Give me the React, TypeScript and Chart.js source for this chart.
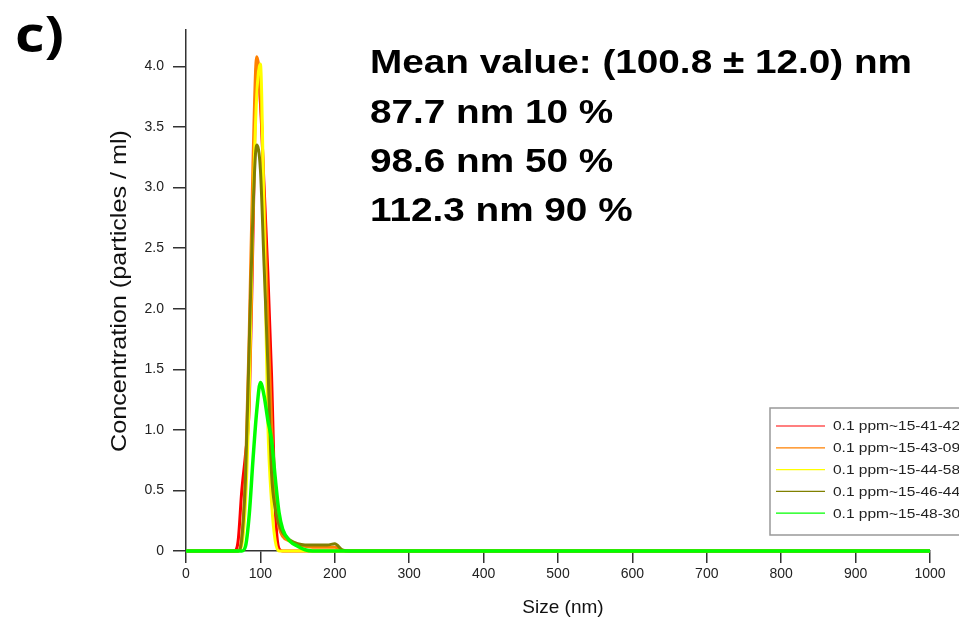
import React, { useEffect, useRef } from "react";
import { Chart, registerables } from "chart.js";

Chart.register(...registerables);

const sizes = [0, 60, 65, 70, 75, 80, 85, 90, 95, 100, 105, 110, 115, 120, 125, 130, 140, 150, 160, 170, 180, 190, 200, 210, 220, 1000];
const red = [0, 0, 0, 0.08, 0.5, 0.8, 1.2, 2.6, 4.0, 3.7, 3.0, 2.3, 1.45, 0.35, 0.02, 0, 0, 0, 0, 0, 0, 0, 0, 0, 0, 0];
const orange = [0, 0, 0, 0, 0.12, 0.65, 1.8, 3.2, 4.08, 3.8, 2.9, 1.95, 1.05, 0.45, 0.2, 0.12, 0.08, 0.05, 0.04, 0.03, 0.03, 0.03, 0.03, 0.005, 0, 0];
const yellow = [0, 0, 0, 0, 0.05, 0.4, 1.3, 2.8, 3.75, 4.02, 2.7, 1.05, 0.4, 0.08, 0, 0, 0, 0, 0, 0, 0, 0, 0, 0, 0, 0];
const olive = [0, 0, 0, 0, 0.1, 0.6, 1.7, 2.8, 3.35, 3.15, 2.35, 1.55, 0.64, 0.35, 0.22, 0.15, 0.09, 0.06, 0.05, 0.05, 0.05, 0.05, 0.06, 0.01, 0, 0];
const green = [0, 0, 0, 0, 0, 0.04, 0.3, 0.75, 1.15, 1.39, 1.28, 1.08, 0.92, 0.6, 0.32, 0.18, 0.08, 0.04, 0.01, 0, 0, 0, 0, 0, 0, 0];

const seriesLabels = ["0.1 ppm~15-41-42", "0.1 ppm~15-43-09", "0.1 ppm~15-44-58", "0.1 ppm~15-46-44", "0.1 ppm~15-48-30"];
const seriesValues = [red, orange, yellow, olive, green];
const seriesColors = ["#ff0000", "#ff8000", "#ffff00", "#808000", "#00ff00"];

const annotationLines = ["Mean value: (100.8 \u00b1 12.0) nm", "87.7 nm 10 %", "98.6 nm 50 %", "112.3 nm 90 %"];
const xTitle = "Size (nm)";
const yTitle = "Concentration (particles / ml)";
const panelLabel = "c)";

const textPlugin = {
  id: "textPlugin",
  afterDraw(chart: any) {
    const ctx = chart.ctx as CanvasRenderingContext2D;
    ctx.save();
    ctx.fillStyle = "#000";
    ctx.textAlign = "left";
    ctx.textBaseline = "alphabetic";

    // panel label
    ctx.save();
    ctx.translate(15, 52);
    ctx.scale(1.15, 1);
    ctx.font = "bold 50px 'Open Sans'";
    ctx.fillText(panelLabel, 0, 0);
    ctx.restore();

    // annotation
    ctx.font = "bold 34px 'Liberation Sans'";
    const w0 = ctx.measureText(annotationLines[0]).width;
    const sx = 542 / w0;
    const baselines = [73, 123, 172, 221];
    annotationLines.forEach((t, i) => {
      ctx.save();
      ctx.translate(370, baselines[i]);
      ctx.scale(sx, 1);
      ctx.fillText(t, 0, 0);
      ctx.restore();
    });

    // x title
    ctx.fillStyle = "#111";
    ctx.font = "19px 'Liberation Sans'";
    ctx.textAlign = "center";
    ctx.fillText(xTitle, 563, 613);

    // y title
    ctx.save();
    ctx.translate(126, 291);
    ctx.rotate(-Math.PI / 2);
    ctx.font = "22px 'Liberation Sans'";
    const wy = ctx.measureText(yTitle).width;
    ctx.scale(322 / wy, 1);
    ctx.textAlign = "center";
    ctx.fillText(yTitle, 0, 0);
    ctx.restore();

    // legend
    const lx = 770, ly = 408, lw = 220, lh = 127;
    ctx.fillStyle = "#fff";
    ctx.fillRect(lx, ly, lw, lh);
    ctx.strokeStyle = "#999";
    ctx.lineWidth = 1.5;
    ctx.strokeRect(lx, ly, lw, lh);
    ctx.font = "12.5px 'Liberation Sans'";
    ctx.textAlign = "left";
    ctx.textBaseline = "middle";
    seriesLabels.forEach((lab, i) => {
      const y = 426 + i * 21.8;
      ctx.strokeStyle = seriesColors[i];
      ctx.lineWidth = 1.2;
      ctx.beginPath();
      ctx.moveTo(776, y);
      ctx.lineTo(825, y);
      ctx.stroke();
      ctx.save();
      ctx.translate(833, y + 1);
      ctx.scale(1.24, 1);
      ctx.fillStyle = "#222";
      ctx.fillText(lab, 0, 0);
      ctx.restore();
    });
    ctx.restore();
  },
};

export default function App() {
  const ref = useRef<HTMLCanvasElement>(null);
  useEffect(() => {
    if (!ref.current) return;
    const datasets = seriesValues.map((vals, i) => ({
      label: seriesLabels[i],
      data: sizes.map((s, j) => ({ x: s, y: vals[j] })),
      borderColor: seriesColors[i],
      backgroundColor: seriesColors[i],
      borderWidth: i === 4 ? 3.5 : 3,
      pointRadius: 0,
      fill: false,
      cubicInterpolationMode: "monotone" as const,
      clip: false as any,
      order: 4 - i,
    }));
    const chart = new Chart(ref.current, {
      type: "line",
      data: { datasets },
      options: {
        animation: false,
        responsive: false,
        maintainAspectRatio: false,
        layout: { padding: { top: 30, right: 29, left: 0, bottom: 0 } },
        plugins: { legend: { display: false }, tooltip: { enabled: false }, title: { display: false } },
        scales: {
          x: {
            type: "linear",
            min: 0,
            max: 1000,
            ticks: {
              stepSize: 100,
              autoSkip: false,
              maxRotation: 0,
              color: "#222",
              font: { family: "'Liberation Sans'", size: 14 },
              padding: 3,
              callback: (v: any) => String(Number(v)),
            },
            grid: { drawOnChartArea: false, tickLength: 12, color: "#333", lineWidth: 1.5 },
            border: { color: "#333", width: 1.5 },
            afterFit: (s: any) => {
              s.height = 70;
            },
          },
          y: {
            type: "linear",
            min: 0,
            max: 4.3,
            ticks: {
              stepSize: 0.5,
              color: "#222",
              font: { family: "'Liberation Sans'", size: 14 },
              padding: 9,
              callback: (v: any) => (Number(v) === 0 ? "0" : Number(v).toFixed(1)),
            },
            grid: { drawOnChartArea: false, tickLength: 13, color: "#333", lineWidth: 1.5 },
            border: { color: "#333", width: 1.5 },
            afterBuildTicks: (s: any) => {
              s.ticks = s.ticks.filter((t: any) => t.value <= 4.0001);
            },
            afterFit: (s: any) => {
              s.width = 186;
            },
          },
        },
      },
      plugins: [textPlugin],
    });
    return () => chart.destroy();
  }, []);
  return (
    <div style={{ position: "fixed", left: 0, top: 0, width: 959, height: 621, background: "#fff" }}>
      <canvas ref={ref} width={959} height={621} />
    </div>
  );
}
